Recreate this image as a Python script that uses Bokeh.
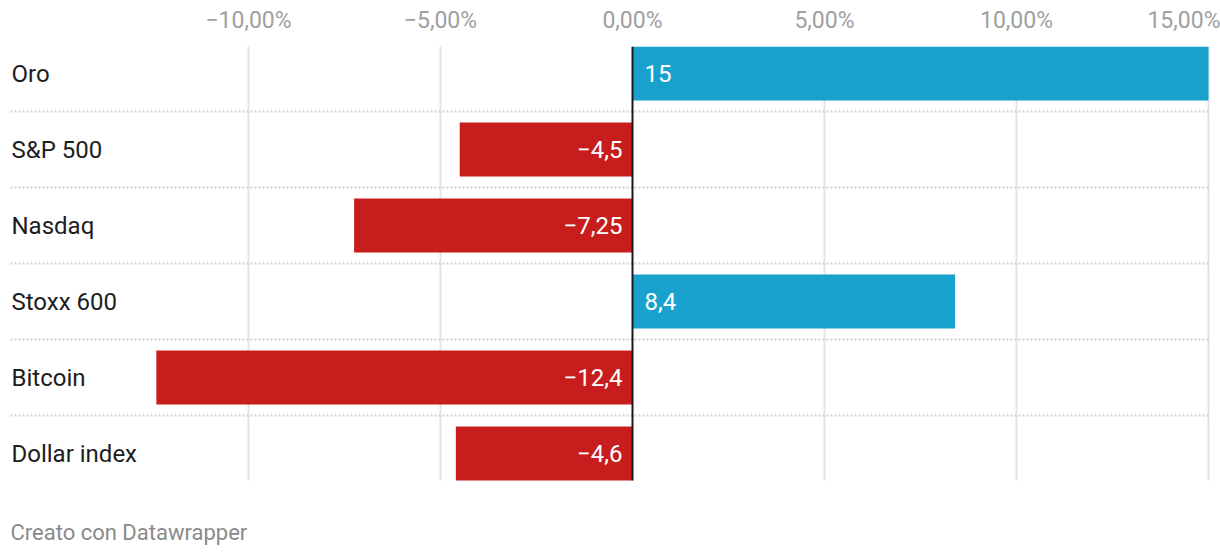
from bokeh.plotting import figure
from bokeh.models import (ColumnDataSource, Range1d, LinearAxis, FixedTicker,
                          CustomJSTickFormatter, Label)
from bokeh.core.properties import value
from bokeh.embed import file_html
from bokeh.resources import INLINE

categories = ["Oro", "S&P 500", "Nasdaq", "Stoxx 600", "Bitcoin", "Dollar index"]
values = [15, -4.5, -7.25, 8.4, -12.4, -4.6]
value_labels = ["15", "\u22124,5", "\u22127,25", "8,4", "\u221212,4", "\u22124,6"]
tick_values = [-10, -5, 0, 5, 10, 15]
footer = "Creato con Datawrapper"

BLUE = "#18a1cd"
RED = "#c71e1d"
FONT = "Roboto"

W, H = 1220, 556
PITCH = 76.0          # px per row
n = len(categories)
rows = list(range(n))
bar_h = 54 / PITCH
x_start, x_end = -16.198, 15.052
top = -bar_h / 2
bottom_rows = n - 1 + bar_h / 2
frame_top, frame_left, frame_right = 46, 10, 10
frame_h = H - frame_top
y_bottom = top + frame_h / PITCH

src = ColumnDataSource(dict(
    row=rows, cat=categories, val=values, lab=value_labels,
    zero=[0] * n,
    color=[BLUE if v >= 0 else RED for v in values],
    align=["left" if v >= 0 else "right" for v in values],
    off=[12 if v >= 0 else -10 for v in values],
    catx=[x_start] * n,
))

grid_x = [t for t in tick_values if t != 0]
grid_src = ColumnDataSource(dict(x=grid_x, y0=[top] * len(grid_x),
                                 y1=[bottom_rows] * len(grid_x)))
sep_y = [i + 0.5 for i in range(n - 1)]
sep_src = ColumnDataSource(dict(y=sep_y, x0=[x_start] * len(sep_y),
                                x1=[x_end] * len(sep_y)))

p = figure(width=W, height=H, output_backend="svg", toolbar_location=None,
           x_range=Range1d(x_start, x_end),
           y_range=Range1d(y_bottom, top),
           x_axis_location=None, y_axis_location=None,
           min_border_left=frame_left, min_border_right=frame_right,
           min_border_top=frame_top, min_border_bottom=0)
p.outline_line_color = None
p.background_fill_color = "white"
p.border_fill_color = "white"
p.xgrid.visible = False
p.ygrid.visible = False

ax = LinearAxis(ticker=FixedTicker(ticks=tick_values))
ax.formatter = CustomJSTickFormatter(code="""
    var s = Math.abs(tick).toFixed(2).replace('.', ',') + '%';
    return (tick < 0 ? '\\u2212' : '') + s;
""")
ax.axis_line_color = None
ax.major_tick_line_color = None
ax.minor_tick_line_color = None
ax.major_label_text_font = FONT
ax.major_label_text_font_size = "23px"
ax.major_label_text_color = "#a0a0a0"
ax.major_label_standoff = 7
p.add_layout(ax, "above")

p.segment(x0="x", y0="y0", x1="x", y1="y1", source=grid_src,
          line_color="#e3e3e3", line_width=2)
p.segment(x0="x0", y0="y", x1="x1", y1="y", source=sep_src,
          line_color="#d0d0d0", line_width=2, line_dash="2 2")

p.hbar(y="row", left="zero", right="val", height=bar_h, color="color", source=src,
       line_color=None)

p.segment(x0=[0], y0=[top], x1=[0], y1=[bottom_rows], line_color="#1a1a1a",
          line_width=2)

p.text(x="zero", y="row", text="lab", source=src, x_offset="off", text_align="align",
       text_baseline="middle", text_color="white", text_font=value(FONT),
       text_font_size="24px")

p.text(x="catx", y="row", text="cat", source=src, x_offset=1, text_align="left",
       text_baseline="middle", text_color="#1d1d1d", text_font=value(FONT),
       text_font_size="24px")

p.add_layout(Label(x=x_start, y=top + (532 - frame_top) / PITCH,
                   text=footer, text_font=FONT, text_baseline="middle",
                   text_font_size="22px", text_color="#8a8a8a"))

open("out.html", "w").write(file_html(p, INLINE))
